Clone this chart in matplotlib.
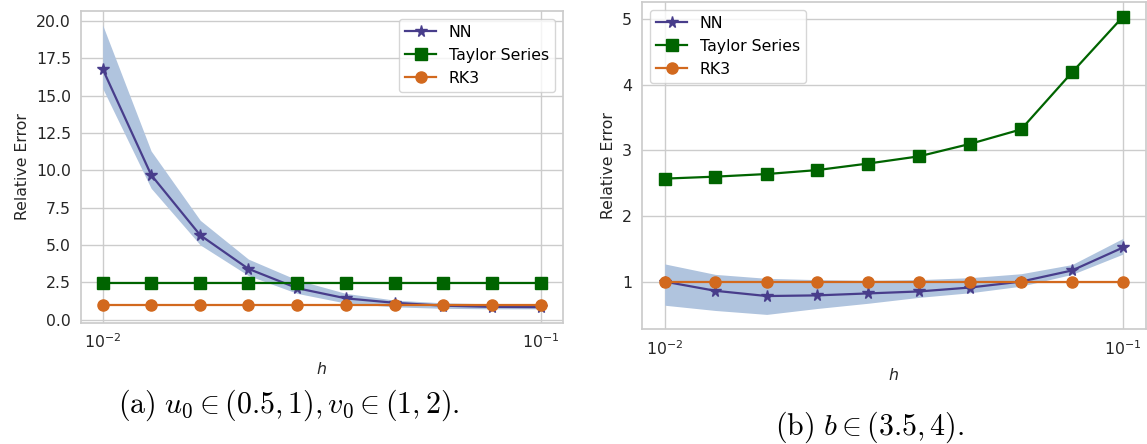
import matplotlib
matplotlib.use("Agg")
import matplotlib.pyplot as plt
from matplotlib.ticker import NullFormatter

# ---- data ----
h = [0.01, 0.0129, 0.0167, 0.0215, 0.0278, 0.0359, 0.0464, 0.0599, 0.0774, 0.1]

# panel (a)
nn_a = [16.8, 9.7, 5.65, 3.4, 2.1, 1.42, 1.12, 0.93, 0.85, 0.83]
nn_a_hi = [19.75, 11.3, 6.65, 4.05, 2.65, 1.75, 1.3, 1.12, 1.05, 1.05]
nn_a_lo = [15.5, 8.8, 5.0, 2.95, 1.75, 1.1, 0.85, 0.75, 0.72, 0.72]
taylor_a = [2.42, 2.42, 2.42, 2.42, 2.42, 2.42, 2.42, 2.42, 2.42, 2.42]
rk3_a = [1.0, 1.0, 1.0, 1.0, 1.0, 1.0, 1.0, 1.0, 1.0, 1.0]

# panel (b)
nn_b = [1.0, 0.86, 0.78, 0.79, 0.82, 0.85, 0.91, 1.0, 1.17, 1.52]
nn_b_hi = [1.27, 1.11, 1.05, 1.03, 1.02, 1.03, 1.06, 1.12, 1.26, 1.66]
nn_b_lo = [0.64, 0.56, 0.50, 0.59, 0.67, 0.76, 0.83, 0.93, 1.11, 1.42]
taylor_b = [2.57, 2.60, 2.64, 2.70, 2.80, 2.91, 3.10, 3.32, 4.19, 5.04]
rk3_b = [1.0, 1.0, 1.0, 1.0, 1.0, 1.0, 1.0, 1.0, 1.0, 1.0]

labels = ["NN", "Taylor Series", "RK3"]
captions = [r"$\mathrm{(a)}\ u_0 \in (0.5, 1), v_0 \in (1, 2).$",
            r"$\mathrm{(b)}\ b \in (3.5, 4).$"]

# ---- style ----
FS = 11.3
plt.rcParams.update({
    "font.family": ["DejaVu Sans"],
    "font.size": FS,
    "axes.edgecolor": "#cccccc",
    "axes.linewidth": 1.25,
    "grid.color": "#cccccc",
    "grid.linewidth": 1.0,
    "xtick.color": "#262626",
    "ytick.color": "#262626",
    "xtick.major.size": 0,
    "ytick.major.size": 0,
    "xtick.minor.size": 0,
    "ytick.minor.size": 0,
    "axes.labelcolor": "#262626",
    "mathtext.fontset": "dejavusans",
})

C_NN = "#483D8B"
C_TS = "#006400"
C_RK = "#D2691E"
C_BAND = "#B0C4DE"

fig = plt.figure(figsize=(11.47, 4.44), dpi=100)
W, H = 1147.0, 444.0

def add_ax(l, r, t, b):
    return fig.add_axes([l / W, (H - b) / H, (r - l) / W, (b - t) / H])

ax_a = add_ax(80.7, 563.0, 10.7, 323.0)
ax_b = add_ax(641.7, 1146.0, 1.7, 329.3)

def draw(ax, nn, lo, hi, ts, rk, loc):
    ax.fill_between(h, lo, hi, color=C_BAND, lw=0, zorder=1)
    ax.plot(h, nn, color=C_NN, marker="*", ms=8.5, lw=1.6, label=labels[0], zorder=3)
    ax.plot(h, ts, color=C_TS, marker="s", ms=8, lw=1.6, label=labels[1], zorder=3)
    ax.plot(h, rk, color=C_RK, marker="o", ms=8, lw=1.6, label=labels[2], zorder=3)
    ax.set_xscale("log")
    ax.xaxis.set_minor_formatter(NullFormatter())
    ax.grid(True, which="major")
    ax.set_axisbelow(True)
    ax.set_facecolor("white")
    ax.set_xlabel("$h$", fontsize=FS, labelpad=7)
    ax.set_ylabel("Relative Error", fontsize=FS)
    ax.tick_params(labelsize=FS, pad=7)
    leg = ax.legend(loc=loc, fontsize=FS, frameon=True, fancybox=True,
                    framealpha=0.8, edgecolor="#cccccc", handlelength=2.0,
                    borderpad=0.4, labelspacing=0.5)
    leg.get_frame().set_linewidth(1.0)

draw(ax_a, nn_a, nn_a_lo, nn_a_hi, taylor_a, rk3_a, "upper right")
draw(ax_b, nn_b, nn_b_lo, nn_b_hi, taylor_b, rk3_b, "upper left")
ax_a.set_yticks([0.0, 2.5, 5.0, 7.5, 10.0, 12.5, 15.0, 17.5, 20.0])
ax_a.set_yticklabels(["0.0", "2.5", "5.0", "7.5", "10.0", "12.5", "15.0", "17.5", "20.0"])
ax_b.set_yticks([1, 2, 3, 4, 5])

fig.text(289 / W, 1 - 405 / H, captions[0], ha="center", va="center",
         fontsize=21.5, math_fontfamily="cm")
fig.text(870 / W, 1 - 427 / H, captions[1], ha="center", va="center",
         fontsize=21.5, math_fontfamily="cm")

fig.savefig("out.png", dpi=100)
